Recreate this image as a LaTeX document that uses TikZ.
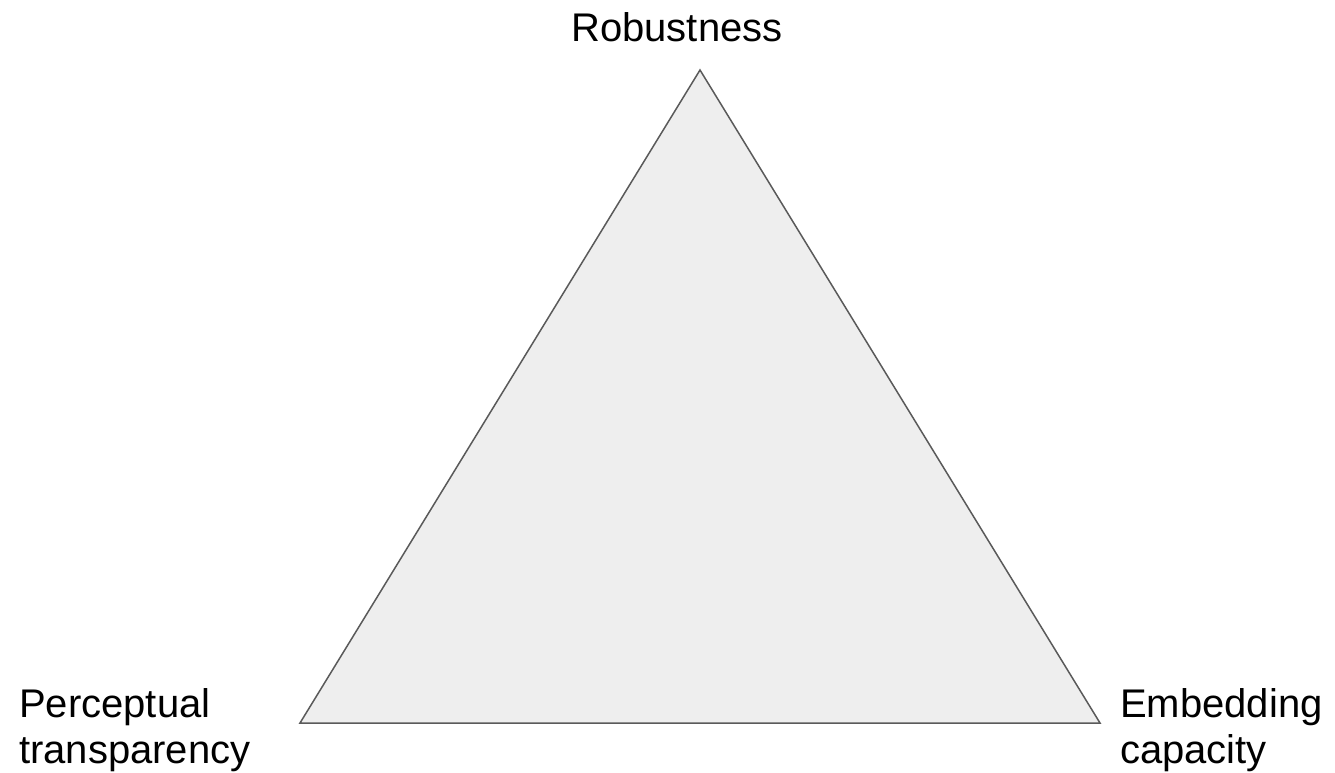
\documentclass[tikz,border=0pt]{standalone}
\usepackage{fontspec}
\setmainfont{Liberation Sans}
\definecolor{tri}{HTML}{EEEEEE}
\definecolor{edge}{HTML}{5A5A5A}
\begin{document}
\begin{tikzpicture}[x=1pt,y=-1pt,
  lbl/.style={inner sep=0pt, font=\fontsize{40}{46}\selectfont, text=black},
  trianglestyle/.style={fill=tri, draw=edge, line width=1.5pt, line join=miter}]
\useasboundingbox (0,0) rectangle (1335,772);
\coordinate (T) at (700,70);
\coordinate (L) at (300,723);
\coordinate (R) at (1100,723);
\draw[trianglestyle] (T) -- (L) -- (R) -- cycle;
\node[lbl, anchor=base] (rob) at (677,41) {Robustness};
\node[lbl, anchor=base west, align=left] (per) at (19,763) {Perceptual\\transparency};
\node[lbl, anchor=base west, align=left] (emb) at (1120,763) {Embedding\\capacity};
\end{tikzpicture}
\end{document}
